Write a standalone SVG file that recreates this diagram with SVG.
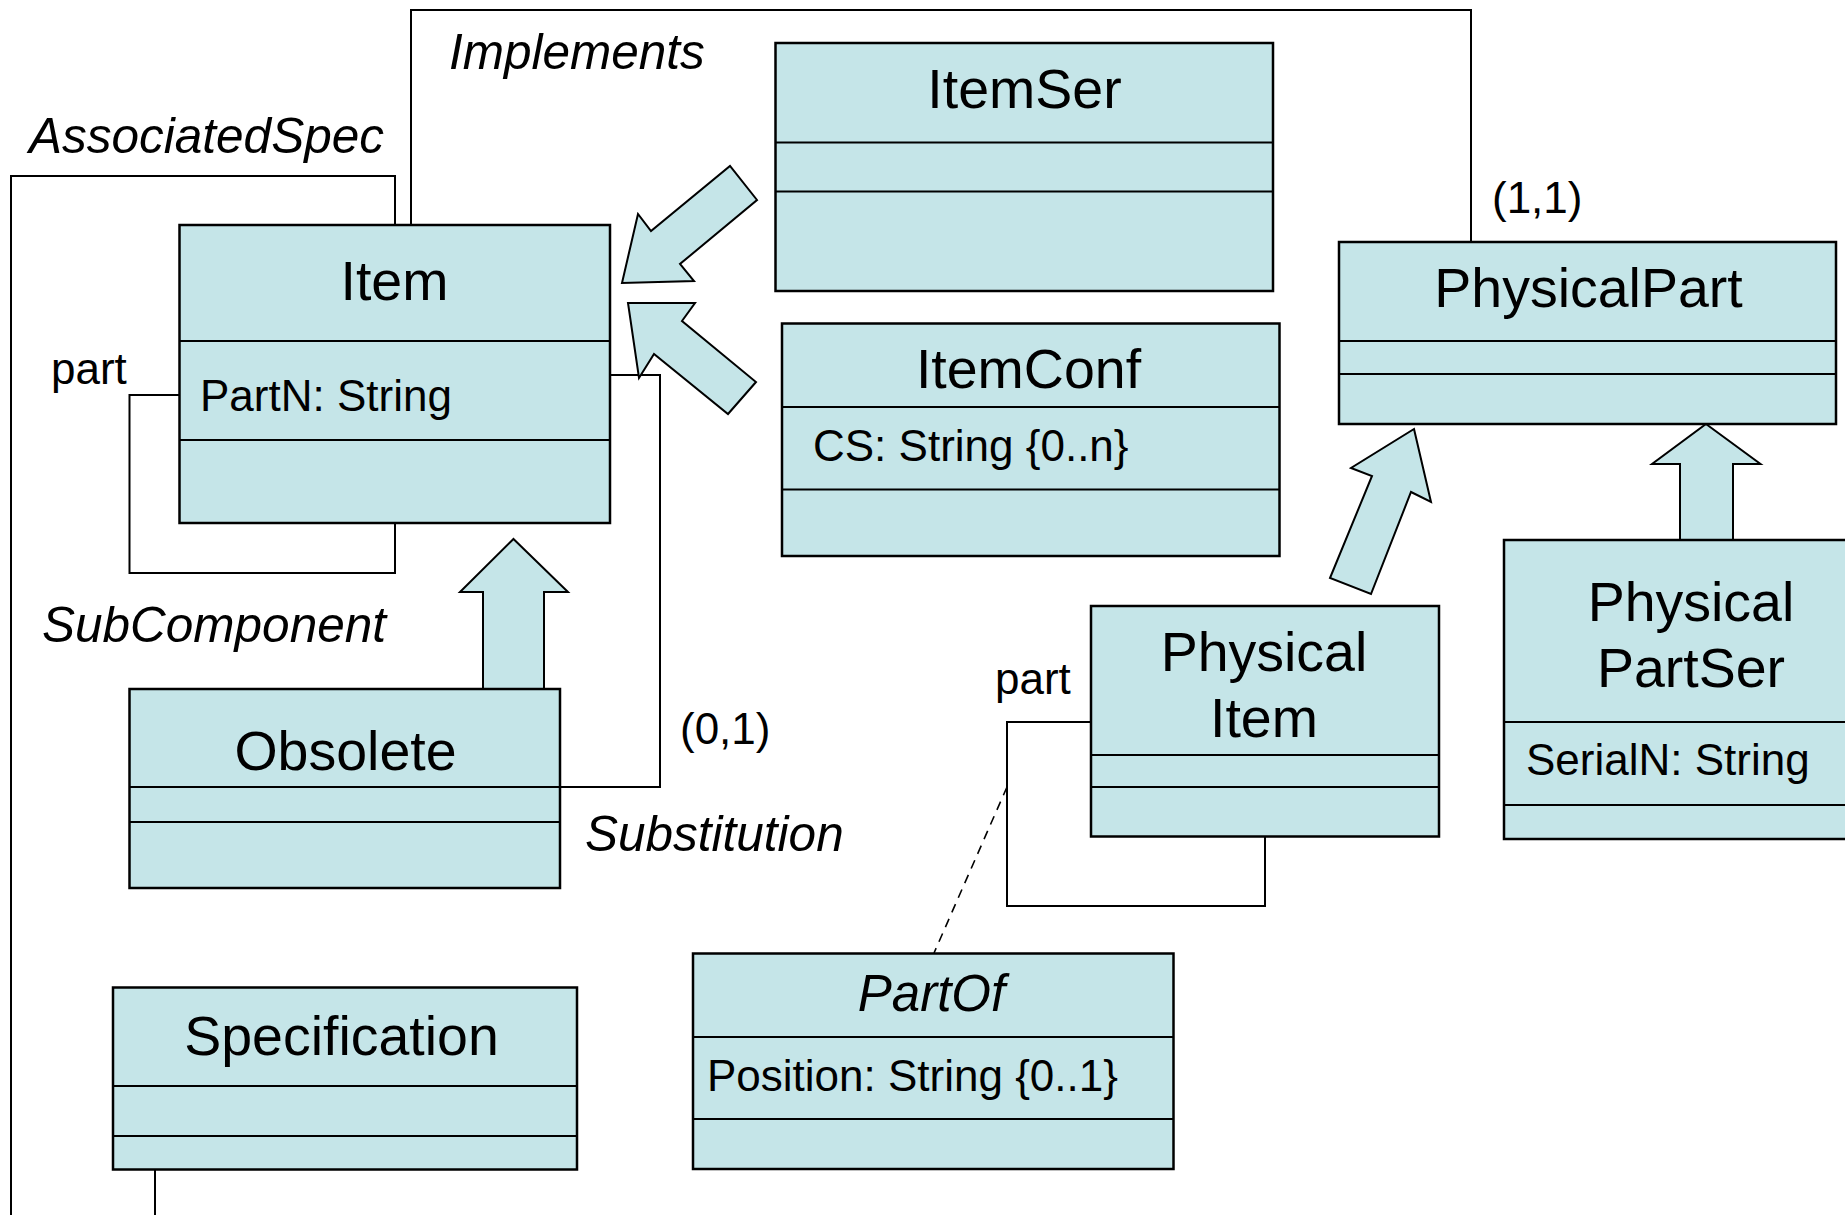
<svg xmlns="http://www.w3.org/2000/svg" width="1845" height="1215" viewBox="0 0 1845 1215">
  <style>
    .box { fill: #C5E5E8; stroke: #000; stroke-width: 2.5; }
    .div { stroke: #000; stroke-width: 2; fill: none; }
    .conn { fill: none; stroke: #000; stroke-width: 2; }
    .dash { fill: none; stroke: #000; stroke-width: 1.6; stroke-dasharray: 9 7; }
    .blk { fill: #C5E5E8; stroke: #000; stroke-width: 2; stroke-linejoin: miter; }
    text { font-family: "Liberation Sans", Arial, sans-serif; fill: #000; }
    .title { font-size: 55.5px; text-anchor: middle; }
    .attr { font-size: 44px; }
    .role { font-size: 49.5px; font-style: italic; }
    .mult { font-size: 44px; }
  </style>

  <rect width="1845" height="1215" fill="#fff"/>

  <!-- associations, generalisations and their labels -->
  <g id="connectors">
    <!-- Implements: Item to PhysicalPart -->
    <path class="conn" d="M411 225 V10 H1471 V242"/>
    <!-- AssociatedSpec: Item to Specification -->
    <path class="conn" d="M395 225 V176 H11 V1215"/>
    <path class="conn" d="M155 1169 V1215"/>
    <!-- SubComponent self association on Item -->
    <path class="conn" d="M179 395 H129.5 V573 H395 V523"/>
    <!-- Substitution: Item to Obsolete -->
    <path class="conn" d="M610 375 H660 V787 H560"/>
    <!-- part self association on PhysicalItem -->
    <path class="conn" d="M1091 722 H1007 V906 H1265 V836"/>
    <!-- association class link -->
    <path class="dash" d="M1007 787 L934 953"/>

    <!-- generalisation block arrows -->
    <polygon class="blk" points="622,283 638,214 651,231 730,166 757,200 680,264 694,281"/>
    <polygon class="blk" points="628,303 695,303 682,321 756,382 728,414 654,354 639,378"/>
    <polygon class="blk" points="513.5,539 568,592 544,592 544,689 483,689 483,592 460,592"/>
    <polygon class="blk" points="1414,429 1431,502 1411,492 1371,594 1330,578 1372,476 1351,468"/>
    <polygon class="blk" points="1706,424 1760.5,464 1733,464 1733,540 1680,540 1680,464 1652,464"/>

    <text class="role" x="449" y="69">Implements</text>
    <text class="role" x="29" y="153">AssociatedSpec</text>
    <text class="role" x="42" y="642">SubComponent</text>
    <text class="role" x="585" y="851">Substitution</text>
    <text class="mult" x="51" y="384">part</text>
    <text class="mult" x="995" y="694">part</text>
    <text class="mult" x="680" y="744">(0,1)</text>
    <text class="mult" x="1492" y="213">(1,1)</text>
  </g>

  <g id="item">
    <rect class="box" x="179.5" y="225" width="430.5" height="298"/>
    <line class="div" x1="179.5" y1="341" x2="610" y2="341"/>
    <line class="div" x1="179.5" y1="440" x2="610" y2="440"/>
    <text class="title" x="394.5" y="300">Item</text>
    <text class="attr" x="200" y="411">PartN: String</text>
  </g>

  <g id="itemser">
    <rect class="box" x="775.5" y="43" width="497.5" height="248"/>
    <line class="div" x1="775.5" y1="142.5" x2="1273" y2="142.5"/>
    <line class="div" x1="775.5" y1="191.5" x2="1273" y2="191.5"/>
    <text class="title" x="1024.5" y="108">ItemSer</text>
  </g>

  <g id="itemconf">
    <rect class="box" x="782" y="323.5" width="497.5" height="232.5"/>
    <line class="div" x1="782" y1="407" x2="1279.5" y2="407"/>
    <line class="div" x1="782" y1="489.5" x2="1279.5" y2="489.5"/>
    <text class="title" x="1028.5" y="388">ItemConf</text>
    <text class="attr" x="813" y="461">CS: String {0..n}</text>
  </g>

  <g id="physicalpart">
    <rect class="box" x="1339" y="242" width="497" height="182"/>
    <line class="div" x1="1339" y1="341" x2="1836" y2="341"/>
    <line class="div" x1="1339" y1="374" x2="1836" y2="374"/>
    <text class="title" x="1588.5" y="307">PhysicalPart</text>
  </g>

  <g id="obsolete">
    <rect class="box" x="129.5" y="689" width="430.5" height="199"/>
    <line class="div" x1="129.5" y1="787" x2="560" y2="787"/>
    <line class="div" x1="129.5" y1="822" x2="560" y2="822"/>
    <text class="title" x="345.5" y="770">Obsolete</text>
  </g>

  <g id="physicalitem">
    <rect class="box" x="1091" y="606" width="348" height="230.5"/>
    <line class="div" x1="1091" y1="755" x2="1439" y2="755"/>
    <line class="div" x1="1091" y1="787" x2="1439" y2="787"/>
    <text class="title" x="1264" y="671">Physical</text>
    <text class="title" x="1264" y="737">Item</text>
  </g>

  <g id="physicalpartser">
    <rect class="box" x="1504" y="540" width="350" height="299"/>
    <line class="div" x1="1504" y1="722" x2="1854" y2="722"/>
    <line class="div" x1="1504" y1="805" x2="1854" y2="805"/>
    <text class="title" x="1691" y="621">Physical</text>
    <text class="title" x="1691" y="687">PartSer</text>
    <text class="attr" x="1526" y="775">SerialN: String</text>
  </g>

  <g id="specification">
    <rect class="box" x="113" y="987.5" width="464" height="182"/>
    <line class="div" x1="113" y1="1086" x2="577" y2="1086"/>
    <line class="div" x1="113" y1="1136" x2="577" y2="1136"/>
    <text class="title" x="341.5" y="1055">Specification</text>
  </g>

  <g id="partof">
    <rect class="box" x="693" y="953.5" width="480.5" height="215.5"/>
    <line class="div" x1="693" y1="1037" x2="1173.5" y2="1037"/>
    <line class="div" x1="693" y1="1119" x2="1173.5" y2="1119"/>
    <text class="title" x="931.5" y="1011" style="font-style:italic;font-size:51px">PartOf</text>
    <text class="attr" x="707" y="1091">Position: String {0..1}</text>
  </g>
</svg>
